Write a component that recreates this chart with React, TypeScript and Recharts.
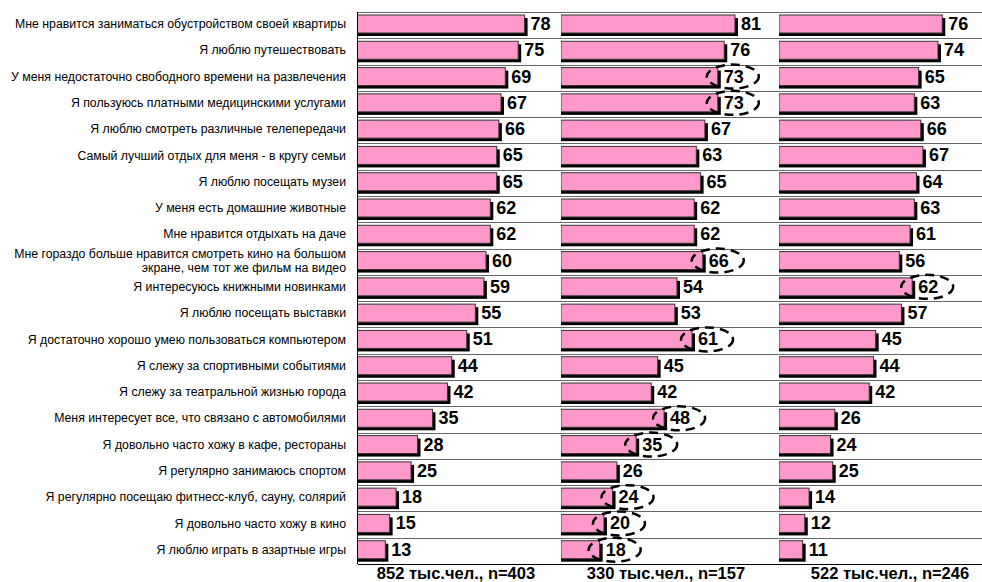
import React from 'react';
import { BarChart, Bar, XAxis, YAxis, LabelList } from 'recharts';

const categories = [
  'Мне нравится заниматься обустройством своей квартиры',
  'Я люблю путешествовать',
  'У меня недостаточно свободного времени на развлечения',
  'Я пользуюсь платными медицинскими услугами',
  'Я люблю смотреть различные телепередачи',
  'Самый лучший отдых для меня - в кругу семьи',
  'Я люблю посещать музеи',
  'У меня есть домашние животные',
  'Мне нравится отдыхать на даче',
  'Мне гораздо больше нравится смотреть кино на большом\nэкране, чем тот же фильм на видео',
  'Я интересуюсь книжными новинками',
  'Я люблю посещать выставки',
  'Я достаточно хорошо умею пользоваться компьютером',
  'Я слежу за спортивными событиями',
  'Я слежу за театральной жизнью города',
  'Меня интересует все, что связано с автомобилями',
  'Я довольно часто хожу в кафе, рестораны',
  'Я регулярно занимаюсь спортом',
  'Я регулярно посещаю фитнесс-клуб, сауну, солярий',
  'Я довольно часто хожу в кино',
  'Я люблю играть в азартные игры',
];

const group1Values = [78, 75, 69, 67, 66, 65, 65, 62, 62, 60, 59, 55, 51, 44, 42, 35, 28, 25, 18, 15, 13];
const group2Values = [81, 76, 73, 73, 67, 63, 65, 62, 62, 66, 54, 53, 61, 45, 42, 48, 35, 26, 24, 20, 18];
const group3Values = [76, 74, 65, 63, 66, 67, 64, 63, 61, 56, 62, 57, 45, 44, 42, 26, 24, 25, 14, 12, 11];

// rows circled with a dashed oval in the picture
const group2Marked = [2, 3, 9, 12, 15, 16, 18, 19, 20];
const group3Marked = [10];

const footers = ['852 тыс.чел., n=403', '330 тыс.чел., n=157', '522 тыс.чел., n=246'];

const FONT = "Arial, 'Liberation Sans', sans-serif";
const TOP = 12;
const BOTTOM = 564;
const HEIGHT = 582;
const BAND = (BOTTOM - TOP) / categories.length;
const PLOT_LEFT = 357.5;

const makeRows = (values: number[], marked: number[]) =>
  categories.map((name, i) => ({ name, value: values[i], marked: marked.includes(i) }));

const ShadowBar = (props: any) => {
  const { x, y, width, height } = props;
  if (width <= 0) return null;
  return (
    <g>
      <rect x={x} y={y + 2} width={width + 3} height={height} fill="#000" />
      <rect x={x} y={y - 1} width={width} height={height} fill="#FF99CC" stroke="#333" strokeWidth={1} />
    </g>
  );
};

const makeValueLabel = (marked: number[]) => (props: any) => {
  const { x, y, width, height, value, index } = props;
  const cy = y + height / 2 - 1;
  const tx = x + width + 6;
  return (
    <g>
      <text x={tx} y={cy} dominantBaseline="central" fontFamily={FONT} fontWeight="bold" fontSize={18} fill="#000">
        {value}
      </text>
      {marked.includes(index) && (
        <ellipse cx={x + width + 15} cy={cy} rx={26} ry={12} fill="none" stroke="#000" strokeWidth={2.5} strokeDasharray="9 6" />
      )}
    </g>
  );
};

const CategoryTick = (props: any) => {
  const { y, payload } = props;
  const lines = String(payload.value).split('\n');
  const startY = y - 1 - ((lines.length - 1) * 14) / 2;
  return (
    <text x={346} y={startY} textAnchor="end" dominantBaseline="central" fontFamily={FONT} fontSize={12.3} fill="#000">
      {lines.map((l, i) => (
        <tspan key={i} x={346} y={startY + i * 14}>
          {l}
        </tspan>
      ))}
    </text>
  );
};

type PanelProps = {
  values: number[];
  marked: number[];
  left: number;
  width: number;
  axisWidth: number;
  max: number;
  showLabels?: boolean;
};

const Panel = ({ values, marked, left, width, axisWidth, max, showLabels }: PanelProps) => (
  <div style={{ position: 'absolute', left, top: 0 }}>
    <BarChart
      width={width}
      height={HEIGHT}
      data={makeRows(values, marked)}
      layout="vertical"
      margin={{ top: TOP, right: 0, bottom: HEIGHT - BOTTOM, left: 0 }}
    >
      <XAxis type="number" domain={[0, max]} hide />
      <YAxis
        type="category"
        dataKey="name"
        width={axisWidth}
        axisLine={{ stroke: '#000' }}
        tickLine={false}
        tick={showLabels ? CategoryTick : false}
        interval={0}
      />
      <Bar dataKey="value" barSize={18} shape={ShadowBar} isAnimationActive={false}>
        <LabelList dataKey="value" content={makeValueLabel(marked)} />
      </Bar>
    </BarChart>
  </div>
);

const footerCenters = [456, 666, 890];

// row separators behind the panels
const RowLines = () => (
  <>
    {Array.from({ length: categories.length + 1 }, (_, i) => (
      <div
        key={i}
        style={{
          position: 'absolute',
          left: PLOT_LEFT,
          width: 982 - PLOT_LEFT,
          top: Math.round(TOP + i * BAND),
          height: 1,
          background: i === categories.length ? '#000' : '#666',
        }}
      />
    ))}
  </>
);

export default function App() {
  return (
    <div style={{ position: 'absolute', left: 0, top: 0, width: 982, height: HEIGHT, background: '#fff', overflow: 'hidden' }}>
      <RowLines />
      <Panel values={group1Values} marked={[]} left={0} width={561} axisWidth={PLOT_LEFT} max={95} showLabels />
      <Panel values={group2Values} marked={group2Marked} left={561} width={218} axisWidth={0} max={101.5} />
      <Panel values={group3Values} marked={group3Marked} left={779} width={203} axisWidth={0} max={94.5} />
      {footers.map((f, i) => (
        <div
          key={f}
          style={{
            position: 'absolute',
            left: footerCenters[i] - 100,
            width: 200,
            top: 565,
            textAlign: 'center',
            fontFamily: FONT,
            fontWeight: 'bold',
            fontSize: 16.5,
            lineHeight: '17px',
          }}
        >
          {f}
        </div>
      ))}
    </div>
  );
}
